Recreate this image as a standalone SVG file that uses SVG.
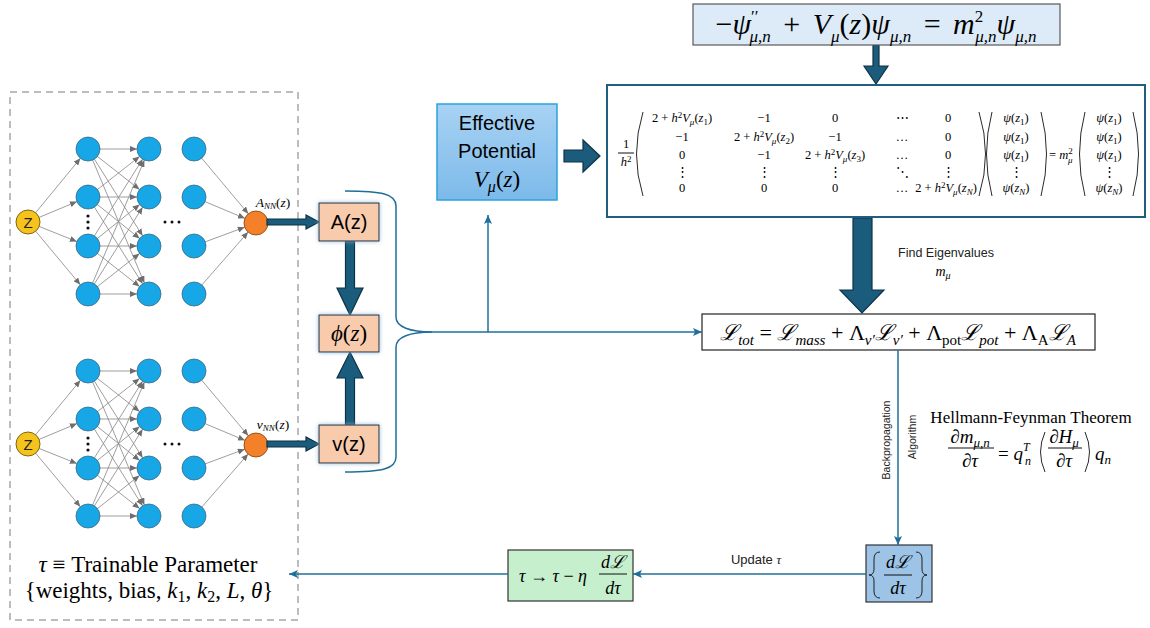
<svg xmlns="http://www.w3.org/2000/svg" width="1150" height="628" viewBox="0 0 1150 628">
<defs>
<style>
.sans{font-family:"Liberation Sans",Arial,sans-serif}
.m{font-family:"Liberation Serif","DejaVu Serif",serif;font-style:italic}
.r{font-style:normal}
.nl line{stroke:#858585;stroke-width:0.8;marker-end:url(#ah)}
.hid{fill:#17a6e6;stroke:#3d6a86;stroke-width:0.8}
.dot{fill:#111}
.con{fill:none;stroke:#1f6f98;stroke-width:1.5}
.blk{fill:#1b5c7d;stroke:#0c3247;stroke-width:1.2}
.peach{fill:#f8cbad;stroke:#262626;stroke-width:1;filter:url(#glow)}
.par{fill:none;stroke:#111;stroke-width:0.9}
.mt{font-family:"Liberation Serif","DejaVu Serif",serif;font-size:12.5px;text-anchor:middle}
.st{text-anchor:start}
.s{font-size:9px}
.bar{stroke:#111;stroke-width:1}
</style>
<marker id="ah" markerUnits="userSpaceOnUse" markerWidth="7" markerHeight="6" refX="19" refY="3" orient="auto"><path d="M0,0 L7,3 L0,6 z" fill="#6e6e6e"/></marker>
<marker id="ca" markerUnits="userSpaceOnUse" markerWidth="9" markerHeight="8" refX="9" refY="4" orient="auto"><path d="M0,0 L9,4 L0,8 L2,4 z" fill="#1f6f98"/></marker>
<filter id="glow" x="-25%" y="-25%" width="150%" height="150%"><feDropShadow dx="0" dy="0" stdDeviation="2" flood-color="#7fb6e0" flood-opacity="0.9"/></filter>
<linearGradient id="epg" x1="0" y1="0" x2="0" y2="1"><stop offset="0" stop-color="#a8d2f3"/><stop offset="1" stop-color="#7cbaea"/></linearGradient>
</defs>
<rect width="1150" height="628" fill="#fff"/>

<rect id="param-box" x="10" y="92" width="288" height="528" fill="none" stroke="#a6a6a6" stroke-width="1.5" stroke-dasharray="7,5"/>

<g id="net-A">
 <g class="nl">
  <line x1="28" y1="222" x2="88" y2="149"/><line x1="28" y1="222" x2="88" y2="197"/><line x1="28" y1="222" x2="88" y2="246"/><line x1="28" y1="222" x2="88" y2="294"/>
  <line x1="88" y1="149" x2="149" y2="149"/><line x1="88" y1="149" x2="149" y2="197"/><line x1="88" y1="149" x2="149" y2="246"/><line x1="88" y1="149" x2="149" y2="294"/>
  <line x1="88" y1="197" x2="149" y2="149"/><line x1="88" y1="197" x2="149" y2="197"/><line x1="88" y1="197" x2="149" y2="246"/><line x1="88" y1="197" x2="149" y2="294"/>
  <line x1="88" y1="246" x2="149" y2="149"/><line x1="88" y1="246" x2="149" y2="197"/><line x1="88" y1="246" x2="149" y2="246"/><line x1="88" y1="246" x2="149" y2="294"/>
  <line x1="88" y1="294" x2="149" y2="149"/><line x1="88" y1="294" x2="149" y2="197"/><line x1="88" y1="294" x2="149" y2="246"/><line x1="88" y1="294" x2="149" y2="294"/>
  <line x1="194" y1="149" x2="256" y2="223"/><line x1="194" y1="197" x2="256" y2="223"/><line x1="194" y1="246" x2="256" y2="223"/><line x1="194" y1="294" x2="256" y2="223"/>
 </g>
 <circle cx="28" cy="222" r="12" fill="#f6c21c" stroke="#6e5a10" stroke-width="0.9"/>
 <text class="sans" x="28" y="227.5" font-size="15" text-anchor="middle" fill="#222">Z</text>
 <circle class="hid" cx="88" cy="149" r="12"/><circle class="hid" cx="88" cy="197" r="12"/><circle class="hid" cx="88" cy="246" r="12"/><circle class="hid" cx="88" cy="294" r="12"/>
 <circle class="hid" cx="149" cy="149" r="12"/><circle class="hid" cx="149" cy="197" r="12"/><circle class="hid" cx="149" cy="246" r="12"/><circle class="hid" cx="149" cy="294" r="12"/>
 <circle class="hid" cx="194" cy="149" r="12"/><circle class="hid" cx="194" cy="197" r="12"/><circle class="hid" cx="194" cy="246" r="12"/><circle class="hid" cx="194" cy="294" r="12"/>
 <circle class="dot" cx="88" cy="216" r="1.6"/><circle class="dot" cx="88" cy="222" r="1.6"/><circle class="dot" cx="88" cy="228" r="1.6"/>
 <circle class="dot" cx="165" cy="222" r="1.5"/><circle class="dot" cx="172" cy="222" r="1.5"/><circle class="dot" cx="179" cy="222" r="1.5"/>
 <circle cx="256" cy="223" r="12" fill="#f5802a" stroke="#8f4a14" stroke-width="0.9"/>
</g>
<use id="net-v" href="#net-A" transform="translate(0,222)"/>

<text class="m" x="273" y="207" font-size="13.5" text-anchor="middle">A<tspan font-size="9" dy="2">NN</tspan><tspan class="r" dy="-2">(</tspan>z<tspan class="r">)</tspan></text>
<text class="m" x="273" y="429" font-size="13.5" text-anchor="middle">v<tspan font-size="9" dy="2">NN</tspan><tspan class="r" dy="-2">(</tspan>z<tspan class="r">)</tspan></text>

<g id="arrows-block">
 <path class="blk" d="M267,219 L306,219 L306,215 L319,222 L306,229 L306,225 L267,225 z"/>
 <path class="blk" d="M267,441 L306,441 L306,437 L319,444 L306,451 L306,447 L267,447 z"/>
 <path class="blk" d="M345.5,241 L354.5,241 L354.5,288 L363,288 L350,315 L337,288 L345.5,288 z"/>
 <path class="blk" d="M345.5,425 L345.5,378 L337,378 L350,352 L363,378 L354.5,378 L354.5,425 z"/>
 <path class="blk" d="M564,150 L583,150 L583,140 L600,156 L583,172 L583,162 L564,162 z"/>
 <path class="blk" d="M873,45 L879,45 L879,66 L888,66 L876,84 L864,66 L873,66 z"/>
 <path class="blk" d="M853,218 L872,218 L872,290 L884,290 L862,313 L840,290 L853,290 z"/>
</g>

<g id="node-A">
 <rect class="peach" x="319" y="203" width="60" height="38"/>
 <text class="sans" x="349" y="229" font-size="20" text-anchor="middle">A(z)</text>
</g>
<g id="node-phi">
 <rect class="peach" x="319" y="315" width="60" height="37"/>
 <text class="m" x="349" y="341" font-size="23" text-anchor="middle">ϕ<tspan class="r">(</tspan>z<tspan class="r">)</tspan></text>
</g>
<g id="node-v">
 <rect class="peach" x="319" y="425" width="60" height="38"/>
 <text class="sans" x="349" y="451" font-size="20" text-anchor="middle">v(z)</text>
</g>

<g id="node-potential">
 <rect x="437" y="104" width="120" height="96" fill="url(#epg)" stroke="#2aa2dc" stroke-width="1.5"/>
 <text class="sans" x="497" y="130" font-size="20" text-anchor="middle">Effective</text>
 <text class="sans" x="497" y="158" font-size="20" text-anchor="middle">Potential</text>
 <text class="m" x="497" y="187" font-size="23" text-anchor="middle">V<tspan font-size="16" dy="5">μ</tspan><tspan class="r" dy="-5">(</tspan>z<tspan class="r">)</tspan></text>
</g>

<g id="node-schrodinger">
 <rect x="693" y="4" width="367" height="41" fill="#dcebf7" stroke="#595959" stroke-width="1.2"/>
 <text class="m" x="876" y="34" font-size="30" text-anchor="middle" word-spacing="5"><tspan class="r">−</tspan>ψ<tspan class="r" font-size="17" dy="-12">′′</tspan><tspan font-size="17" dx="-9" dy="20">μ,n</tspan><tspan class="r" dy="-8"> + </tspan>V<tspan font-size="17" dy="8">μ</tspan><tspan class="r" dy="-8">(</tspan>z<tspan class="r">)</tspan>ψ<tspan font-size="17" dy="8">μ,n</tspan><tspan class="r" dy="-8"> = </tspan>m<tspan class="r" font-size="17" dy="-12">2</tspan><tspan font-size="17" dx="-8" dy="20">μ,n</tspan><tspan dy="-8">ψ</tspan><tspan font-size="17" dy="8">μ,n</tspan></text>
</g>

<g id="node-matrix">
 <rect x="607" y="85" width="538" height="132" fill="#fff" stroke="#1f5e7e" stroke-width="2"/>
 <text class="mt" x="626" y="148">1</text>
 <line class="bar" x1="618" y1="153" x2="634" y2="153" stroke-width="0.8"/>
 <text class="mt m" x="626" y="166">h<tspan class="r s" dy="-4.5">2</tspan></text>
 <path class="par" d="M643,112 Q630,154 643,196"/>
 <path class="par" d="M979,112 Q992,154 979,196"/>
 <path class="par" d="M992,112 Q981,154 992,196"/>
 <path class="par" d="M1041,112 Q1052,154 1041,196"/>
 <path class="par" d="M1085,112 Q1074,154 1085,196"/>
 <path class="par" d="M1133,112 Q1144,154 1133,196"/>
 <!-- row 1 -->
 <text class="mt" x="682" y="122">2 + <tspan class="m">h</tspan><tspan class="s" dy="-4.5">2</tspan><tspan class="m" dy="4.5">V</tspan><tspan class="m s" dy="2.5">μ</tspan><tspan dy="-2.5">(</tspan><tspan class="m">z</tspan><tspan class="s" dy="2.5">1</tspan><tspan dy="-2.5">)</tspan></text>
 <text class="mt" x="764" y="122">−1</text><text class="mt" x="835" y="122">0</text><text class="mt" x="902" y="122">⋯</text><text class="mt" x="948" y="122">0</text>
 <!-- row 2 -->
 <text class="mt" x="682" y="141">−1</text>
 <text class="mt" x="764" y="141">2 + <tspan class="m">h</tspan><tspan class="s" dy="-4.5">2</tspan><tspan class="m" dy="4.5">V</tspan><tspan class="m s" dy="2.5">μ</tspan><tspan dy="-2.5">(</tspan><tspan class="m">z</tspan><tspan class="s" dy="2.5">2</tspan><tspan dy="-2.5">)</tspan></text>
 <text class="mt" x="835" y="141">−1</text><text class="mt" x="902" y="141">…</text><text class="mt" x="948" y="141">0</text>
 <!-- row 3 -->
 <text class="mt" x="682" y="159">0</text><text class="mt" x="764" y="159">−1</text>
 <text class="mt" x="835" y="159">2 + <tspan class="m">h</tspan><tspan class="s" dy="-4.5">2</tspan><tspan class="m" dy="4.5">V</tspan><tspan class="m s" dy="2.5">μ</tspan><tspan dy="-2.5">(</tspan><tspan class="m">z</tspan><tspan class="s" dy="2.5">3</tspan><tspan dy="-2.5">)</tspan></text>
 <text class="mt" x="902" y="159">…</text><text class="mt" x="948" y="159">0</text>
 <!-- row 4 -->
 <text class="mt" x="682" y="176">⋮</text><text class="mt" x="764" y="176">⋮</text><text class="mt" x="835" y="176">⋮</text><text class="mt" x="902" y="176">⋱</text><text class="mt" x="948" y="176">⋮</text>
 <!-- row 5 -->
 <text class="mt" x="682" y="192">0</text><text class="mt" x="764" y="192">0</text><text class="mt" x="835" y="192">0</text><text class="mt" x="902" y="192">…</text>
 <text class="mt" x="946" y="192">2 + <tspan class="m">h</tspan><tspan class="s" dy="-4.5">2</tspan><tspan class="m" dy="4.5">V</tspan><tspan class="m s" dy="2.5">μ</tspan><tspan dy="-2.5">(</tspan><tspan class="m">z</tspan><tspan class="m s" dy="2.5">N</tspan><tspan dy="-2.5">)</tspan></text>
 <!-- vector 1 -->
 <text class="mt" x="1016" y="122"><tspan class="m">ψ</tspan>(<tspan class="m">z</tspan><tspan class="s" dy="2.5">1</tspan><tspan dy="-2.5">)</tspan></text>
 <text class="mt" x="1016" y="141"><tspan class="m">ψ</tspan>(<tspan class="m">z</tspan><tspan class="s" dy="2.5">1</tspan><tspan dy="-2.5">)</tspan></text>
 <text class="mt" x="1016" y="159"><tspan class="m">ψ</tspan>(<tspan class="m">z</tspan><tspan class="s" dy="2.5">1</tspan><tspan dy="-2.5">)</tspan></text>
 <text class="mt" x="1016" y="176">⋮</text>
 <text class="mt" x="1016" y="192"><tspan class="m">ψ</tspan>(<tspan class="m">z</tspan><tspan class="m s" dy="2.5">N</tspan><tspan dy="-2.5">)</tspan></text>
 <text class="mt st" x="1049" y="159">= <tspan class="m">m</tspan><tspan class="s" dy="-5">2</tspan></text>
 <text class="mt m s st" x="1068" y="163">μ</text>
 <!-- vector 2 -->
 <text class="mt" x="1109" y="122"><tspan class="m">ψ</tspan>(<tspan class="m">z</tspan><tspan class="s" dy="2.5">1</tspan><tspan dy="-2.5">)</tspan></text>
 <text class="mt" x="1109" y="141"><tspan class="m">ψ</tspan>(<tspan class="m">z</tspan><tspan class="s" dy="2.5">1</tspan><tspan dy="-2.5">)</tspan></text>
 <text class="mt" x="1109" y="159"><tspan class="m">ψ</tspan>(<tspan class="m">z</tspan><tspan class="s" dy="2.5">1</tspan><tspan dy="-2.5">)</tspan></text>
 <text class="mt" x="1109" y="176">⋮</text>
 <text class="mt" x="1109" y="192"><tspan class="m">ψ</tspan>(<tspan class="m">z</tspan><tspan class="m s" dy="2.5">N</tspan><tspan dy="-2.5">)</tspan></text>
</g>

<g id="label-eigen">
 <text class="sans" x="946" y="257" font-size="12.5" text-anchor="middle" fill="#222">Find Eigenvalues</text>
 <text class="m" x="943" y="276" font-size="14" text-anchor="middle">m<tspan font-size="10" dy="3">μ</tspan></text>
</g>

<g id="node-loss">
 <rect x="702" y="314" width="393" height="36" fill="#fff" stroke="#222" stroke-width="1.2"/>
 <text class="m" x="898" y="340" font-size="22" text-anchor="middle">ℒ<tspan font-size="15" dy="5">tot</tspan><tspan class="r" dy="-5"> = </tspan>ℒ<tspan font-size="15" dy="5">mass</tspan><tspan class="r" dy="-5"> + Λ</tspan><tspan font-size="15" dy="5">v′</tspan><tspan dy="-5">ℒ</tspan><tspan font-size="15" dy="5">v′</tspan><tspan class="r" dy="-5"> + Λ</tspan><tspan class="r" font-size="15" dy="5">pot</tspan><tspan dy="-5">ℒ</tspan><tspan font-size="15" dy="5">pot</tspan><tspan class="r" dy="-5"> + Λ</tspan><tspan class="r" font-size="15" dy="5">A</tspan><tspan dy="-5">ℒ</tspan><tspan font-size="15" dy="5">A</tspan></text>
</g>

<g id="label-backprop">
 <text class="sans" transform="translate(890,440) rotate(-90)" font-size="10.5" text-anchor="middle" fill="#222">Backpropagation</text>
 <text class="sans" transform="translate(916,437) rotate(-90)" font-size="10.5" text-anchor="middle" fill="#222">Algorithm</text>
</g>

<g id="label-hf">
 <text x="1031" y="423" font-family="Liberation Serif, serif" font-size="17" text-anchor="middle">Hellmann-Feynman Theorem</text>
 <text class="m" x="970" y="443" font-size="19" text-anchor="middle">∂m<tspan font-size="13" dy="4">μ,n</tspan></text>
 <line class="bar" x1="948" y1="448" x2="994" y2="448"/>
 <text class="m" x="970" y="467" font-size="19" text-anchor="middle">∂τ</text>
 <text class="m" x="998" y="460" font-size="19"><tspan class="r">= </tspan>q<tspan font-size="12" dy="-9">T</tspan></text>
 <text class="m" x="1025" y="465" font-size="12">n</text>
 <path class="par" d="M1045,432 Q1036,452 1045,472" stroke-width="1.2"/>
 <text class="m" x="1064" y="443" font-size="19" text-anchor="middle">∂H<tspan font-size="13" dy="4">μ</tspan></text>
 <line class="bar" x1="1048" y1="448" x2="1082" y2="448"/>
 <text class="m" x="1064" y="467" font-size="19" text-anchor="middle">∂τ</text>
 <path class="par" d="M1085,432 Q1094,452 1085,472" stroke-width="1.2"/>
 <text class="m" x="1095" y="460" font-size="19">q<tspan font-size="13" dy="4">n</tspan></text>
</g>

<g id="node-grad">
 <rect x="866" y="545" width="66" height="57" fill="#9dc3e6" stroke="#333" stroke-width="1.2"/>
 <path class="par" d="M880,552 Q874,552 874,559 L874,569 Q874,575 869,575 Q874,575 874,581 L874,591 Q874,598 880,598" stroke-width="1.1"/>
 <path class="par" d="M916,552 Q922,552 922,559 L922,569 Q922,575 927,575 Q922,575 922,581 L922,591 Q922,598 916,598" stroke-width="1.1"/>
 <text class="m" x="898" y="568" font-size="18" text-anchor="middle">dℒ</text>
 <line class="bar" x1="884" y1="575" x2="912" y2="575"/>
 <text class="m" x="898" y="594" font-size="18" text-anchor="middle">dτ</text>
</g>

<g id="node-update">
 <rect x="508" y="550" width="125" height="51" fill="#c6efce" stroke="#333" stroke-width="1.2"/>
 <text class="m" x="519" y="582" font-size="18">τ <tspan class="r">→ </tspan>τ<tspan class="r"> − </tspan>η</text>
 <text class="m" x="613" y="568" font-size="18" text-anchor="middle">dℒ</text>
 <line class="bar" x1="599" y1="574" x2="627" y2="574"/>
 <text class="m" x="613" y="594" font-size="18" text-anchor="middle">dτ</text>
</g>

<text class="sans" x="756" y="564" font-size="13" text-anchor="middle" fill="#222">Update <tspan class="m">τ</tspan></text>

<g id="label-params">
 <text x="148" y="572" font-family="Liberation Serif, serif" font-size="23" text-anchor="middle"><tspan font-style="italic">τ</tspan> ≡ Trainable Parameter</text>
 <text x="149" y="598" font-family="Liberation Serif, serif" font-size="23" text-anchor="middle">{weights, bias, <tspan font-style="italic">k</tspan><tspan font-size="16" dy="4">1</tspan><tspan dy="-4">, </tspan><tspan font-style="italic">k</tspan><tspan font-size="16" dy="4">2</tspan><tspan dy="-4">, </tspan><tspan font-style="italic">L</tspan>, <tspan font-style="italic">θ</tspan>}</text>
</g>

<g id="connectors">
 <path class="con" d="M345,191 C382,191 396,194 396,206 L396,317 C396,327 410,332 432,332"/>
 <path class="con" d="M345,472 C382,472 396,469 396,457 L396,347 C396,337 410,332 432,332"/>
 <line class="con" x1="432" y1="332" x2="702" y2="332" marker-end="url(#ca)"/>
 <line class="con" x1="488" y1="332" x2="488" y2="215" marker-end="url(#ca)"/>
 <line class="con" x1="898" y1="350" x2="898" y2="545" marker-end="url(#ca)"/>
 <line class="con" x1="866" y1="574" x2="633" y2="574" marker-end="url(#ca)"/>
 <line class="con" x1="508" y1="574" x2="289" y2="574" marker-end="url(#ca)"/>
</g>
</svg>
